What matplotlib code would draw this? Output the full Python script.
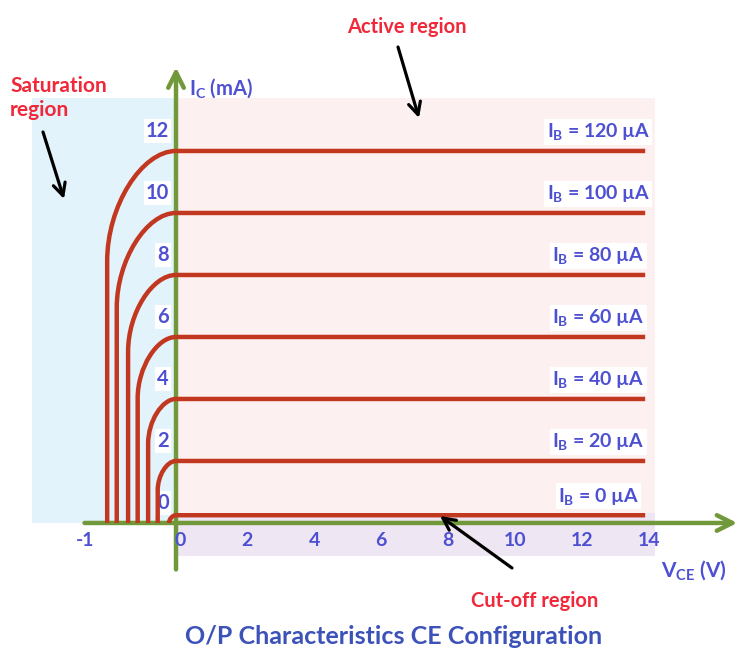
import numpy as np
import matplotlib
matplotlib.use("Agg")
import matplotlib.pyplot as plt
from matplotlib.path import Path
from matplotlib.patches import PathPatch

plt.rcParams["font.family"] = ["Lato", "DejaVu Sans"]
plt.rcParams["font.weight"] = "bold"
plt.rcParams["mathtext.fontset"] = "custom"
plt.rcParams["mathtext.rm"] = "Lato:bold"
plt.rcParams["mathtext.bf"] = "Lato:bold"
plt.rcParams["mathtext.it"] = "Lato:bold"

# data: base current, saturated collector current, start of the rise
ib_values = [0, 20, 40, 60, 80, 100, 120]        # uA
ic_levels = [0.25, 2, 4, 6, 8, 10, 12]            # mA
v_start = [-0.08, -0.21, -0.32, -0.44, -0.55, -0.68, -0.79]   # V
v_end = 14

x_ticks = [-1, 0, 2, 4, 6, 8, 10, 12, 14]
y_ticks = [0, 2, 4, 6, 8, 10, 12]

W, H = 739, 651
NEG = 2.6  # negative side of the V axis is drawn stretched

RED = "#C2371F"
GREEN = "#71993B"
BLUE = "#4E50D2"
TXT_RED = "#F0283A"
TITLE = "#3D52B8"


def fwd(v):
    v = np.asarray(v, dtype=float)
    return np.where(v < 0, v * NEG, v)


def inv(u):
    u = np.asarray(u, dtype=float)
    return np.where(u < 0, u / NEG, u)


def px(x, y):
    return (x / W, 1 - y / H)


fig = plt.figure(figsize=(W / 100, H / 100), dpi=100)
ax = fig.add_axes([0, 0, 1, 1])
ax.set_xscale("function", functions=(fwd, inv))
ax.set_xlim(-2.02, 16.8)
ax.set_ylim(-4.13, 16.87)
ax.axis("off")

# region shading
ax.fill_between([-1.65, 0], 0, 13.7, color="#E2F3FB", lw=0, zorder=0)
ax.fill_between([0, 14.3], 0.32, 13.7, color="#FDF0F0", lw=0, zorder=0)
ax.fill_between([0, 14.3], -1.06, 0.32, color="#EEE6F2", lw=0, zorder=0)

# axes with open arrow heads
ax.annotate("", xy=(16.75, 0), xytext=(-1.05, 0),
            arrowprops=dict(arrowstyle="->", color=GREEN, lw=3.2, mutation_scale=28,
                            shrinkA=0, shrinkB=0), zorder=3)
ax.annotate("", xy=(0, 14.7), xytext=(0, -1.5),
            arrowprops=dict(arrowstyle="->", color=GREEN, lw=3.2, mutation_scale=28,
                            shrinkA=0, shrinkB=0), zorder=3)

# output characteristic curves
k = 0.5
for ib, ic, v0 in zip(ib_values, ic_levels, v_start):
    rx_px = -v0 * NEG * 33.5
    ry = min(1.6 * rx_px / 31, ic)
    verts = [(v0, 0), (v0, ic - ry), (v0, ic - ry + k * ry), ((1 - k) * v0, ic), (0, ic), (v_end, ic)]
    codes = [Path.MOVETO, Path.LINETO, Path.CURVE4, Path.CURVE4, Path.CURVE4, Path.LINETO]
    ax.add_patch(PathPatch(Path(verts, codes), fill=False, edgecolor=RED, lw=3.2,
                           capstyle="butt", joinstyle="round", zorder=4))
    ax.annotate(r"$\mathregular{I_B}$" + f" = {ib} µA", xy=(12.6, ic), xytext=(0, 19),
                textcoords="offset pixels", ha="center", va="center", fontsize=14,
                color=BLUE, zorder=5,
                bbox=dict(boxstyle="square,pad=0.12", fc="white", ec="none"))

# tick labels
for t in x_ticks:
    ax.annotate(str(t), xy=(t, 0), xytext=(4 if t >= 0 else -4, -18),
                textcoords="offset pixels", ha="center", va="center",
                fontsize=14, color=BLUE)
for t in y_ticks:
    ax.annotate(str(t), xy=(0, t), xytext=(-7, 20), textcoords="offset pixels",
                ha="right", va="center", fontsize=14.5, color=BLUE,
                bbox=dict(boxstyle="square,pad=0.1", fc="white", ec="none"))

# axis names
ax.text(*px(189, 88), r"$\mathregular{I_C}$ (mA)", transform=ax.transAxes,
        ha="left", va="center", fontsize=14.5, color=BLUE)
ax.text(*px(661, 570), r"$\mathregular{V_{CE}}$ (V)", transform=ax.transAxes,
        ha="left", va="center", fontsize=15, color=BLUE)

# region names and pointers
ax.text(*px(407, 27), "Active region", transform=ax.transAxes,
        ha="center", va="center", fontsize=14.5, color=TXT_RED)
ax.text(*px(10, 98), "Saturation\nregion", transform=ax.transAxes,
        ha="left", va="center", fontsize=15, color=TXT_RED, linespacing=1.2)
ax.text(*px(535, 601), "Cut-off region", transform=ax.transAxes,
        ha="center", va="center", fontsize=14.5, color=TXT_RED)

arrow = dict(arrowstyle="->", color="black", lw=2.3, mutation_scale=22,
             shrinkA=0, shrinkB=0)
ax.annotate("", xy=px(419, 118), xytext=px(398, 47), xycoords="axes fraction",
            textcoords="axes fraction", arrowprops=arrow)
ax.annotate("", xy=px(64, 199), xytext=px(43, 132), xycoords="axes fraction",
            textcoords="axes fraction", arrowprops=arrow)
ax.annotate("", xy=px(440, 516), xytext=px(512, 568), xycoords="axes fraction",
            textcoords="axes fraction", arrowprops=arrow, zorder=6)

ax.text(*px(394, 637), "O/P Characteristics CE Configuration", transform=ax.transAxes,
        ha="center", va="center", fontsize=18, color=TITLE)

fig.savefig("out.png", dpi=100)
